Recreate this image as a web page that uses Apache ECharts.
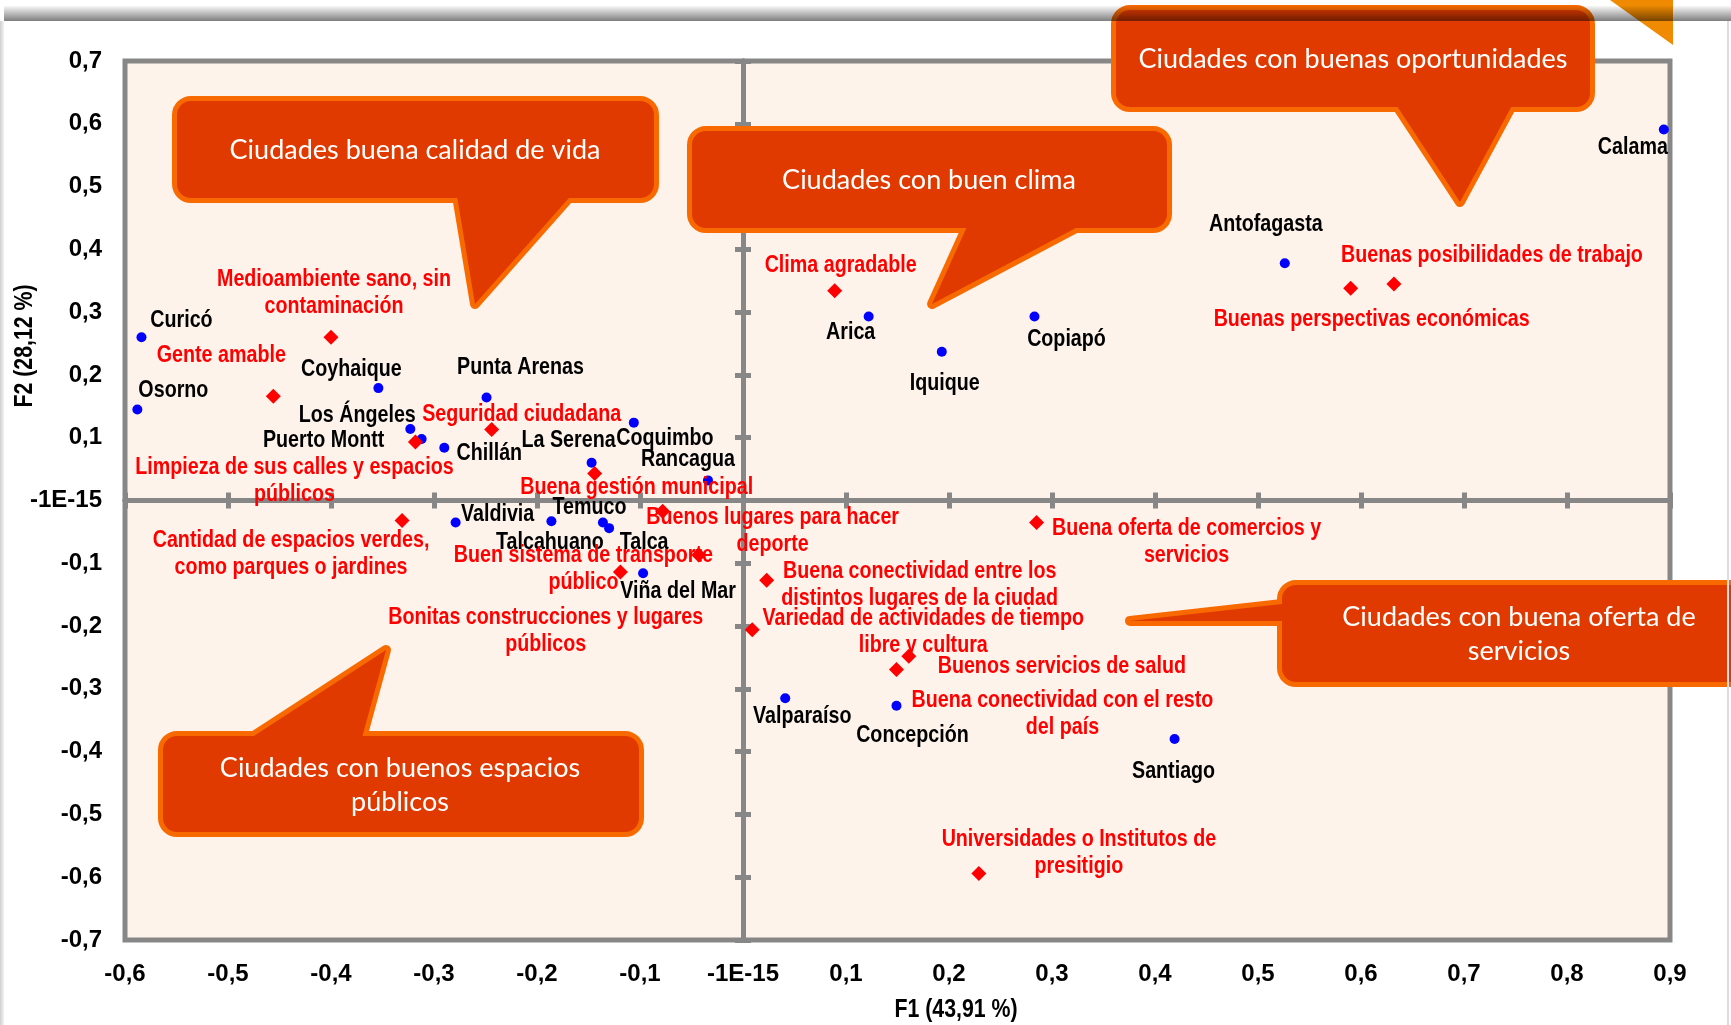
<!DOCTYPE html>
<html><head><meta charset="utf-8">
<script src="https://cdn.jsdelivr.net/npm/echarts@6/dist/echarts.min.js"></script>
<style>html,body{margin:0;padding:0;background:#fff;overflow:hidden}#c{width:1731px;height:1025px}</style>
</head><body><div id="c"></div><script>
// ---- Data ----
const cityNames = ['Calama','Antofagasta','Arica','Copiapó','Iquique','Curicó','Osorno','Coyhaique','Punta Arenas','Los Ángeles','Puerto Montt','Chillán','La Serena','Coquimbo','Rancagua','Valdivia','Temuco','Talcahuano','Talca','Viña del Mar','Valparaíso','Concepción','Santiago'];
const cityF1 = [0.894,0.526,0.122,0.283,0.193,-0.584,-0.588,-0.354,-0.249,-0.323,-0.312,-0.290,-0.147,-0.106,-0.034,-0.279,-0.186,-0.136,-0.130,-0.097,0.041,0.149,0.419];
const cityF2 = [0.591,0.378,0.293,0.293,0.237,0.260,0.145,0.179,0.164,0.114,0.098,0.084,0.060,0.124,0.032,-0.035,-0.033,-0.035,-0.044,-0.116,-0.315,-0.327,-0.380];
const attrNames = ['Medioambiente sano, sin\ncontaminación','Gente amable','Seguridad ciudadana','Limpieza de sus calles y espacios\npúblicos','Buena gestión municipal','Cantidad de espacios verdes,\ncomo parques o jardines','Buenos lugares para hacer\ndeporte','Buen sistema de transporte\npúblico','Bonitas construcciones y lugares\npúblicos','Variedad de actividades de tiempo\nlibre y cultura','Buena conectividad entre los\ndistintos lugares de la ciudad','Clima agradable','Buenas posibilidades de trabajo','Buenas perspectivas económicas','Buena oferta de comercios y\nservicios','Buenos servicios de salud','Buena conectividad con el resto\ndel país','Universidades o Institutos de\npresitigio'];
const attrF1 = [-0.400,-0.456,-0.244,-0.318,-0.144,-0.331,-0.078,-0.119,-0.043,0.009,0.023,0.089,0.632,0.590,0.285,0.161,0.149,0.229];
const attrF2 = [0.260,0.166,0.113,0.093,0.043,-0.032,-0.017,-0.114,-0.087,-0.206,-0.127,0.334,0.345,0.338,-0.035,-0.248,-0.269,-0.594];
const axisNameX = 'F1 (43,91 %)';
const axisNameY = 'F2 (28,12 %)';
const zeroTickLabel = '-1E-15';
const calloutTexts = ['Ciudades buena calidad de vida','Ciudades con buen clima','Ciudades con buenas oportunidades','Ciudades con buena oferta de\nservicios','Ciudades con buenos espacios\npúblicos'];

// ---- Label placement (styling: pixel offsets of each label from its mark) ----
const cityLabelOffsets = [[-31,18],[-19,-39],[-18,16],[32,23],[3,32],[40,-17],[36,-19],[-27,-19],[34,-30],[-53,-14],[-98,1],[45,6],[-23,-22],[31,16],[-20,-21],[42,-8],[38,-14],[-53,20],[35,14],[35,18],[17,18],[16,30],[-1,32]];
const attrLabelOffsets = [[3,-44],[-52,-41],[30,-15],[-121,39],[42,14],[-111,33],[110,20],[-37,-3],[-153,76],[171,2],[153,5],[6,-25],[98,-29],[21,31],[150,19],[153,10],[166,44],[100,-21]];

const SANS = "'Liberation Sans',Arial,sans-serif";
const NARROW_SCALE = 0.82;   // emulates Arial Narrow Bold
const GREY = '#878787';
const FILL = '#E03A00', EDGE = '#F86A00';

function fmt(v){ if (Math.abs(v) < 1e-9) return zeroTickLabel; return v.toFixed(1).replace('.', ','); }

function xAx(extra){ return Object.assign({type:'value', min:-0.6, max:0.9, interval:0.1, gridIndex:0, splitLine:{show:false}, axisLabel:{show:false}, axisTick:{show:false}, axisLine:{show:false, onZero:false}}, extra); }
function yAx(extra){ return Object.assign({type:'value', min:-0.7, max:0.7, interval:0.1, gridIndex:0, splitLine:{show:false}, axisLabel:{show:false}, axisTick:{show:false}, axisLine:{show:false, onZero:false}}, extra); }
const zeroLine = {show:true, onZero:true, lineStyle:{color:GREY, width:5}};
const tickA = {show:true, inside:false, length:8, lineStyle:{color:GREY, width:5}};
const tickB = {show:true, inside:true, length:8, lineStyle:{color:GREY, width:5}};
const tickLbl = {show:true, formatter: fmt, color:'#000', fontFamily:SANS, fontWeight:'bold', fontSize:24};

function labelRenderer(names, offsets, color){
  return function(params, api){
    const p = api.coord([api.value(0), api.value(1)]);
    const o = offsets[params.dataIndex];
    return {type:'text', x:p[0]+o[0], y:p[1]+o[1], scaleX:NARROW_SCALE, silent:true,
      style:{text:names[params.dataIndex], fill:color, fontFamily:SANS, fontWeight:'bold', fontSize:24, lineHeight:27,
             align:'center', textAlign:'center', verticalAlign:'middle', textVerticalAlign:'middle'}};
  };
}

// callout geometry (decorative annotations, pixel space)
const callouts = [
  {box:[177,101,477,97], tail:[[456,190],[576,190],[475,304]], tc:[415,150]},
  {box:[692,131,475,97], tail:[[970,220],[1091,220],[932,304]], tc:[929,180]},
  {box:[1116,10,474,97], tail:[[1393,100],[1515,100],[1460,202]], tc:[1353,59]},
  {box:[1282,585,520,97], tail:[[1300,602],[1300,621],[1130,621]], tc:[1519,634]},
  {box:[163,736,476,96], tail:[[240,745],[360,745],[386,650]], tc:[400,785]}
];
const graphics = [];
graphics.push({type:'polygon', shape:{points:[[1610,0],[1673,0],[1673,45]]}, style:{fill:'#F08A00'}, z:200});
graphics.push({type:'rect', shape:{x:4,y:6,width:1727,height:15}, style:{fill:{type:'linear',x:0,y:0,x2:0,y2:1,colorStops:[{offset:0,color:'rgba(0,0,0,0.03)'},{offset:1,color:'rgba(0,0,0,0.5)'}]}}, z:201});
graphics.push({type:'rect', shape:{x:0,y:21,width:4,height:1004}, style:{fill:{type:'linear',x:0,y:0,x2:1,y2:0,colorStops:[{offset:0,color:'#cfcfcf'},{offset:1,color:'#f3f3f3'}]}}, z:201});
graphics.push({type:'rect', shape:{x:1727,y:21,width:2,height:1004}, style:{fill:'#dcdcdc'}, z:201});
callouts.forEach((c,i)=>{
  const [x,y,w,h] = c.box;
  graphics.push({type:'polygon', shape:{points:c.tail}, style:{fill:EDGE, stroke:EDGE, lineWidth:10, lineJoin:'round'}, z:100});
  graphics.push({type:'rect', shape:{x,y,width:w,height:h,r:14}, style:{fill:EDGE, stroke:EDGE, lineWidth:10}, z:100});
  graphics.push({type:'polygon', shape:{points:c.tail}, style:{fill:FILL}, z:101});
  graphics.push({type:'rect', shape:{x,y,width:w,height:h,r:14}, style:{fill:FILL}, z:101});
  graphics.push({type:'text', x:c.tc[0], y:c.tc[1], style:{text:calloutTexts[i], fill:'#fff', fontSize:27, fontFamily:'Lato', lineHeight:34, align:'center', textAlign:'center', verticalAlign:'middle', textVerticalAlign:'middle'}, z:102});
});
graphics.push({type:'text', x:956, y:1010, scaleX:NARROW_SCALE, style:{text:axisNameX, fill:'#000', fontFamily:SANS, fontWeight:'bold', fontSize:26, align:'center', textAlign:'center', verticalAlign:'middle', textVerticalAlign:'middle'}, z:50});
graphics.push({type:'text', x:25, y:346, rotation:Math.PI/2, scaleX:NARROW_SCALE, style:{text:axisNameY, fill:'#000', fontFamily:SANS, fontWeight:'bold', fontSize:26, align:'center', textAlign:'center', verticalAlign:'middle', textVerticalAlign:'middle'}, z:50});

const cityPts = cityNames.map((n,i)=>({name:n, value:[cityF1[i], cityF2[i]]}));
const attrPts = attrNames.map((n,i)=>({name:n, value:[attrF1[i], attrF2[i]]}));

const chart = echarts.init(document.getElementById('c'), null, {renderer:'canvas'});
chart.setOption({
  animation:false,
  backgroundColor:'#fff',
  grid:{left:125, top:61, width:1545, height:879, show:true, backgroundColor:'#FDF3EB', borderColor:GREY, borderWidth:5},
  xAxis:[
    xAx({position:'bottom', axisLabel:Object.assign({margin:22}, tickLbl)}),
    xAx({position:'bottom', axisLine:zeroLine, axisTick:tickA}),
    xAx({position:'bottom', axisLine:zeroLine, axisTick:tickB})
  ],
  yAxis:[
    yAx({position:'left', axisLabel:Object.assign({margin:23}, tickLbl)}),
    yAx({position:'left', axisLine:zeroLine, axisTick:tickA}),
    yAx({position:'left', axisLine:zeroLine, axisTick:tickB})
  ],
  graphic:{elements:graphics},
  series:[
    {type:'scatter', name:'Ciudades', xAxisIndex:0, yAxisIndex:0, symbol:'circle', symbolSize:10, itemStyle:{color:'#0000FF', opacity:1}, data:cityPts, z:5},
    {type:'scatter', name:'Atributos', xAxisIndex:0, yAxisIndex:0, symbol:'diamond', symbolSize:15, itemStyle:{color:'#FF0000', opacity:1}, data:attrPts, z:5},
    {type:'custom', name:'Ciudades etiquetas', xAxisIndex:0, yAxisIndex:0, renderItem:labelRenderer(cityNames, cityLabelOffsets, '#000000'), data:cityPts, z:6, silent:true},
    {type:'custom', name:'Atributos etiquetas', xAxisIndex:0, yAxisIndex:0, renderItem:labelRenderer(attrNames, attrLabelOffsets, '#FF0000'), data:attrPts, z:6, silent:true}
  ]
});
</script></body></html>
